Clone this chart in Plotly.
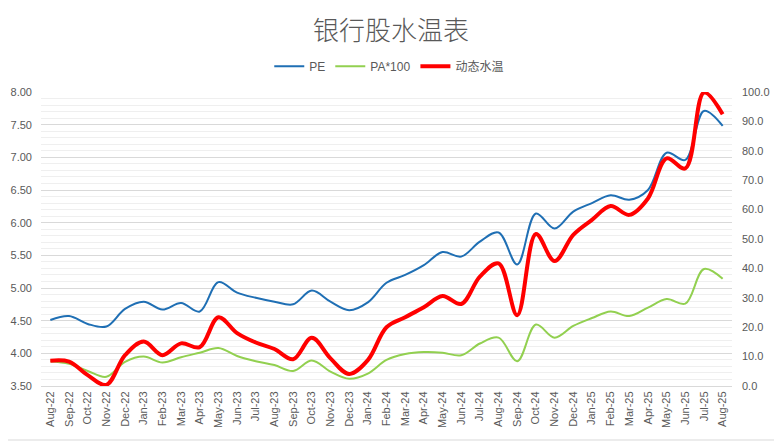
import plotly.graph_objects as go

months = ["Aug-22", "Sep-22", "Oct-22", "Nov-22", "Dec-22", "Jan-23", "Feb-23", "Mar-23",
          "Apr-23", "May-23", "Jun-23", "Jul-23", "Aug-23", "Sep-23", "Oct-23", "Nov-23",
          "Dec-23", "Jan-24", "Feb-24", "Mar-24", "Apr-24", "May-24", "Jun-24", "Jul-24",
          "Aug-24", "Sep-24", "Oct-24", "Nov-24", "Dec-24", "Jan-25", "Feb-25", "Mar-25",
          "Apr-25", "May-25", "Jun-25", "Jul-25", "Aug-25"]

pe = [4.51, 4.57, 4.45, 4.41, 4.68, 4.79, 4.67, 4.77, 4.64, 5.09, 4.93, 4.85,
      4.79, 4.75, 4.96, 4.79, 4.66, 4.78, 5.08, 5.20, 5.35, 5.55, 5.48, 5.71,
      5.85, 5.36, 6.14, 5.91, 6.17, 6.30, 6.42, 6.35, 6.50, 7.07, 6.96, 7.71, 7.48]

pa100 = [3.88, 3.84, 3.73, 3.64, 3.87, 3.95, 3.86, 3.94, 4.01, 4.08, 3.96, 3.88,
         3.82, 3.73, 3.89, 3.72, 3.61, 3.69, 3.90, 3.99, 4.02, 4.01, 3.97, 4.15,
         4.24, 3.88, 4.44, 4.24, 4.42, 4.54, 4.64, 4.57, 4.70, 4.83, 4.76, 5.29, 5.14]

water_temp = [8.6, 8.3, 3.7, 0.4, 10.5, 15.1, 10.5, 14.5, 13.2, 23.4, 18.0, 14.8,
              12.6, 9.1, 16.4, 9.4, 4.1, 8.8, 20.0, 23.4, 26.8, 30.6, 27.9, 37.2,
              41.7, 24.1, 51.7, 42.5, 51.4, 56.5, 61.2, 58.2, 63.8, 77.4, 74.0, 99.8, 92.4]

text_color = "#595959"
font_fam = "Liberation Sans, Noto Sans CJK SC, sans-serif"

# page body adds an 8px margin, so the figure is a bit smaller than the window
W, H = 774, 435

fig = go.Figure()

fig.add_trace(go.Scatter(
    x=months, y=pe, name="PE", mode="lines",
    line=dict(color="#1f6fb4", width=2, shape="spline", smoothing=1.0),
))
fig.add_trace(go.Scatter(
    x=months, y=pa100, name="PA*100", mode="lines",
    line=dict(color="#92d050", width=2, shape="spline", smoothing=1.0),
))
fig.add_trace(go.Scatter(
    x=months, y=water_temp, name="动态水温", mode="lines", yaxis="y2",
    line=dict(color="#ff0000", width=4, shape="spline", smoothing=1.0),
))

fig.update_layout(
    width=W, height=H,
    paper_bgcolor="white", plot_bgcolor="white",
    margin=dict(l=33, r=50, t=84, b=57, autoexpand=False),
    font=dict(family=font_fam, size=11, color=text_color),
    title=dict(text="银行股水温表", x=0.495, xanchor="center", y=0.947, yanchor="middle",
               font=dict(family="Noto Sans CJK SC", size=26, color=text_color, weight=300)),
    legend=dict(orientation="h", x=0.504, xanchor="center", y=1.088, yanchor="middle",
                font=dict(family="Liberation Sans, Noto Sans CJK SC", size=12, color=text_color),
                itemwidth=30, traceorder="normal"),
    xaxis=dict(type="category", range=[-0.5, len(months) - 0.5], tickangle=-90,
               showgrid=False, ticks="", showline=True, linecolor="#d9d9d9",
               tickfont=dict(size=11), automargin=False),
    yaxis=dict(range=[3.5, 8.0], dtick=0.5, tickformat=".2f", showgrid=True,
               gridcolor="#d9d9d9", gridwidth=1, zeroline=False, ticks="",
               minor=dict(dtick=0.1, showgrid=True, gridcolor="#efefef", gridwidth=1),
               tickfont=dict(size=11), ticklabelstandoff=8, automargin=False),
    yaxis2=dict(range=[0, 100], dtick=10, tickformat=".1f", overlaying="y", side="right",
                showgrid=False, zeroline=False, ticks="", tickfont=dict(size=11),
                ticklabelstandoff=9, automargin=False),
    showlegend=True,
)

# right and bottom edges of the chart frame
fig.add_shape(type="line", xref="paper", yref="paper",
              x0=(771 - 33) / 691, x1=(771 - 33) / 691, y0=(378 - 432) / 294, y1=1.3,
              line=dict(color="#d9d9d9", width=1), layer="below")
fig.add_shape(type="line", xref="paper", yref="paper",
              x0=-33 / 691, x1=(771 - 33) / 691, y0=(378 - 432) / 294, y1=(378 - 432) / 294,
              line=dict(color="#d9d9d9", width=1), layer="below")

fig.write_html("out.html")
